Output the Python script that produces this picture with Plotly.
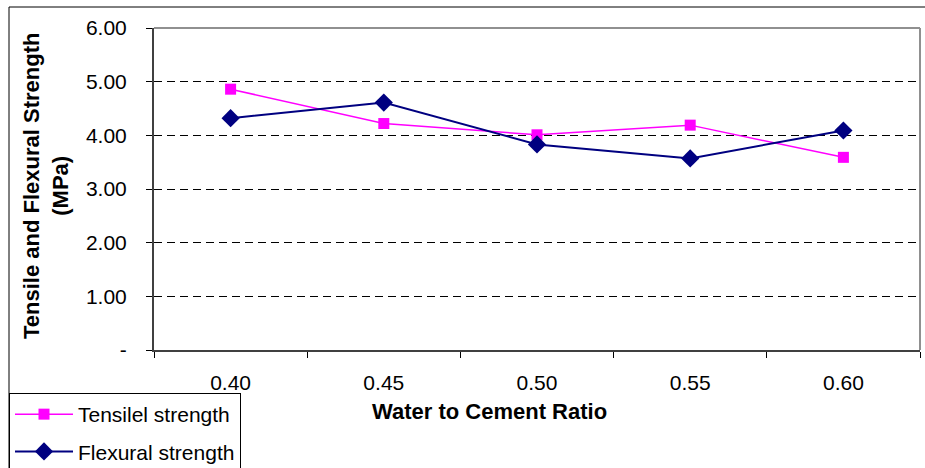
import plotly.graph_objects as go

ratios = ["0.40", "0.45", "0.50", "0.55", "0.60"]
tensile = [4.86, 4.22, 4.01, 4.19, 3.59]
flexural = [4.32, 4.61, 3.83, 3.57, 4.09]
y_ticks = [0, 1, 2, 3, 4, 5, 6]
y_tick_text = ["-", "1.00", "2.00", "3.00", "4.00", "5.00", "6.00"]

W, H = 925, 468
L, R, T, B = 154, 920, 28, 350
pw, ph = R - L, B - T

def px(x):
    return (x - L) / pw

def py(y):
    return (B - y) / ph

font = "Liberation Sans, Arial, sans-serif"

fig = go.Figure()
fig.add_trace(go.Scatter(
    x=ratios, y=tensile, name="Tensilel strength", mode="lines+markers",
    line=dict(color="#FF00FF", width=1.5),
    marker=dict(symbol="square", size=11, color="#FF00FF"),
    legendgroup="a"))
fig.add_trace(go.Scatter(
    x=ratios, y=flexural, name="Flexural strength", mode="lines+markers",
    line=dict(color="#000080", width=2),
    marker=dict(symbol="diamond", size=14, color="#000080"),
    legendgroup="b"))

fig.update_layout(
    width=W, height=H,
    margin=dict(l=L, r=W - R, t=T, b=H - B, pad=0, autoexpand=False),
    paper_bgcolor="white", plot_bgcolor="white",
    font=dict(family=font, size=21, color="black"),
    showlegend=True,
    legend=dict(
        x=px(9), y=py(393), xanchor="left", yanchor="top",
        bordercolor="black", borderwidth=1, bgcolor="white",
        font=dict(size=21), traceorder="grouped", tracegroupgap=7,
        itemwidth=58),
    xaxis=dict(
        type="category", range=[-0.5, 4.5], tickson="boundaries",
        showgrid=False, ticks="outside", ticklen=6, tickcolor="black",
        showline=True, linecolor="#404040", linewidth=2,
        ticklabelstandoff=13, tickfont=dict(size=21)),
    yaxis=dict(
        range=[0, 6], tickvals=y_ticks, ticktext=y_tick_text,
        showgrid=True, gridcolor="black", gridwidth=1, griddash="8px,5px",
        ticks="outside", ticklen=6, tickcolor="black",
        showline=True, linecolor="#404040", linewidth=2,
        zeroline=False, ticklabelstandoff=15, tickfont=dict(size=21)),
    shapes=[
        dict(type="line", xref="paper", yref="paper", x0=0, x1=1, y0=1, y1=1,
             line=dict(color="#909090", width=2)),
        dict(type="line", xref="paper", yref="paper", x0=1, x1=1, y0=0, y1=1,
             line=dict(color="#909090", width=2)),
        dict(type="rect", xref="paper", yref="paper",
             x0=px(9), x1=px(940), y0=py(480), y1=py(7),
             line=dict(color="black", width=1), layer="below"),
    ],
    annotations=[
        dict(text="<b>Water to Cement Ratio</b>", xref="paper", yref="paper",
             x=px(489), y=py(411), showarrow=False, xanchor="center",
             yanchor="middle", font=dict(size=22)),
        dict(text="<b>Tensile and Flexural Strength<br>(MPa)</b>",
             xref="paper", yref="paper", x=px(46), y=py(186),
             showarrow=False, textangle=-90, xanchor="center",
             yanchor="middle", font=dict(size=22)),
    ],
)

fig.write_html(
    "out.html",
    config={"displayModeBar": False},
    post_script="document.body.style.margin='0';document.body.style.padding='0';document.body.style.overflow='hidden';")
